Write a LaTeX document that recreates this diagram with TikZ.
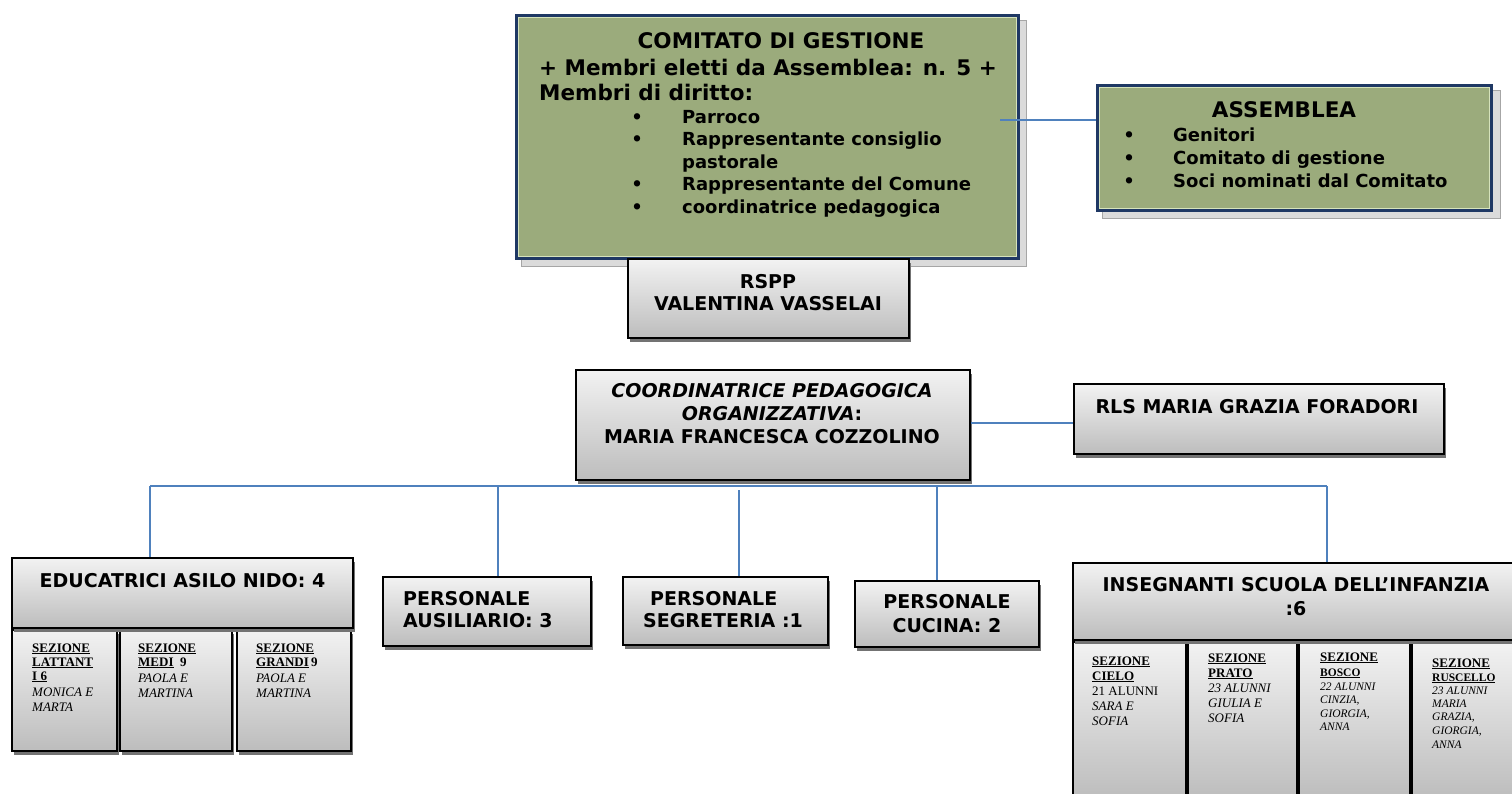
\documentclass[tikz,border=0pt]{standalone}
\usepackage{fontspec}
\setmainfont{DejaVu Sans}
\newfontfamily\tms{Liberation Serif}
\usetikzlibrary{shadows,calc}
\definecolor{cgreen}{RGB}{155,171,124}
\definecolor{cnavy}{RGB}{31,56,100}
\definecolor{clight}{RGB}{214,227,188}
\definecolor{cblue}{RGB}{79,129,189}
\newcommand{\ulb}[1]{\setbox0\hbox{#1}\rlap{\rule[-2pt]{\wd0}{1.1pt}}\box0}
\tikzset{
 graybox/.style={draw=black, line width=1.6pt, top color=black!5, bottom color=black!26, inner sep=0pt,
   drop shadow={shadow xshift=2pt, shadow yshift=-4pt, fill=black!55, opacity=1}},
 greenbox/.style={draw=cnavy, line width=4pt, fill=cgreen, inner sep=0pt},
 gshadow/.style={draw=black!35, fill=black!14, line width=1pt},
 conn/.style={draw=cblue, line width=1.6pt},
 big/.style={font=\bfseries\fontsize{21.5}{26}\selectfont, inner sep=0pt},
 mid/.style={font=\bfseries\fontsize{18}{22}\selectfont, inner sep=0pt},
 lab/.style={font=\bfseries\fontsize{19}{23}\selectfont, inner sep=0pt},
 sez/.style={font=\tms\fontsize{13}{15}\selectfont, inner sep=0pt, anchor=base west},
 sezs/.style={font=\tms\fontsize{11.5}{13}\selectfont, inner sep=0pt, anchor=base west},
}
\begin{document}
\begin{tikzpicture}[x=1pt,y=-1pt]
\useasboundingbox[fill=white] (0,0) rectangle (1512,793);

% ---------- Comitato di gestione ----------
\draw[gshadow] (521,20) rectangle (1026,266);
\node[greenbox, minimum width=501, minimum height=242] (com) at (767.5,137) {};
\draw[clight, line width=1.2pt] ($(com.north west)+(3.5,3.5)$) rectangle ($(com.south east)+(-3.5,-3.5)$);
\node[big, anchor=base] (c1) at (781,48) {COMITATO DI GESTIONE};
\node[big, anchor=base west] (c2) at (539,75) {+ Membri eletti da Assemblea: n. 5 +};
\node[big, anchor=base west] (c3) at (539,100) {Membri di diritto:};
\node[mid, anchor=base] (cb1) at (637,123) {•};
\node[mid, anchor=base west] (cl1) at (682,123) {Parroco};
\node[mid, anchor=base] (cb2) at (637,145.5) {•};
\node[mid, anchor=base west] (cl2) at (682,145.5) {Rappresentante consiglio};
\node[mid, anchor=base west] (cl2b) at (682,168) {pastorale};
\node[mid, anchor=base] (cb3) at (637,190.5) {•};
\node[mid, anchor=base west] (cl3) at (682,190.5) {Rappresentante del Comune};
\node[mid, anchor=base] (cb4) at (637,213) {•};
\node[mid, anchor=base west] (cl4) at (682,213) {coordinatrice pedagogica};

% ---------- Assemblea ----------
\draw[gshadow] (1102,90) rectangle (1500,218);
\node[greenbox, minimum width=393, minimum height=124] (asm) at (1294.5,148) {};
\draw[clight, line width=1.2pt] ($(asm.north west)+(3.5,3.5)$) rectangle ($(asm.south east)+(-3.5,-3.5)$);
\node[big, anchor=base] (a0) at (1284,117) {ASSEMBLEA};
\node[mid, anchor=base] (ab1) at (1129,141) {•};
\node[mid, anchor=base west] (a1) at (1173,141) {Genitori};
\node[mid, anchor=base] (ab2) at (1129,164) {•};
\node[mid, anchor=base west] (a2) at (1173,164) {Comitato di gestione};
\node[mid, anchor=base] (ab3) at (1129,187) {•};
\node[mid, anchor=base west] (a3) at (1173,187) {Soci nominati dal Comitato};

\coordinate (ca) at (1000,120);
\draw[conn] (ca) -- (ca -| asm.west);

% ---------- RSPP ----------
\node[graybox, minimum width=281, minimum height=79] (rspp) at (768.5,298.5) {};
\node[lab, anchor=base] (r1) at (768,288) {RSPP};
\node[lab, anchor=base] (r2) at (768,310) {VALENTINA VASSELAI};

% ---------- Coordinatrice ----------
\node[graybox, minimum width=394, minimum height=110] (coo) at (773,425) {};
\node[lab, anchor=base] (k1) at (772,397) {\itshape COORDINATRICE PEDAGOGICA};
\node[lab, anchor=base] (k2) at (772,420) {\itshape ORGANIZZATIVA\upshape:};
\node[lab, anchor=base] (k3) at (772,443) {MARIA FRANCESCA COZZOLINO};

% ---------- RLS ----------
\node[graybox, minimum width=370, minimum height=70] (rls) at (1259,419) {};
\node[lab, anchor=base] (l1) at (1257,413) {RLS MARIA GRAZIA FORADORI};
\coordinate (cr) at (971,423);
\draw[conn] (cr) -- (cr -| rls.west);

% ---------- bus ----------
\coordinate (b1) at (150,486);
\coordinate (b2) at (498,486);
\coordinate (b3) at (739,490);
\coordinate (b4) at (937,486);
\coordinate (b5) at (1327,486);
\draw[conn] (b1) -- (b5);

% ---------- Educatrici ----------
\node[graybox, minimum width=105, minimum height=121] (e1) at (64.5,690.5) {};
\node[graybox, minimum width=112, minimum height=121] (e2) at (176,690.5) {};
\node[graybox, minimum width=114, minimum height=121] (e3) at (294,690.5) {};
\node[graybox, minimum width=341, minimum height=70] (edu) at (182.5,593) {};
\node[lab, anchor=base] (et) at (182.5,587) {EDUCATRICI ASILO NIDO: 4};
\draw[conn] (b1) -- (b1 |- edu.north);

\node[sez] (e1a) at (32,652) {\bfseries\ulb{SEZIONE}};
\node[sez] (e1b) at (32,666) {\bfseries\ulb{LATTANT}};
\node[sez] (e1c) at (32,680) {\bfseries\ulb{I 6}};
\node[sez] (e1d) at (32,696) {\itshape MONICA E};
\node[sez] (e1e) at (32,711) {\itshape MARTA};

\node[sez] (e2a) at (138,652) {\bfseries\ulb{SEZIONE}};
\node[sez] (e2b) at (138,666) {\bfseries\ulb{MEDI}\ \ 9};
\node[sez] (e2c) at (138,682) {\itshape PAOLA E};
\node[sez] (e2d) at (138,697) {\itshape MARTINA};

\node[sez] (e3a) at (256,652) {\bfseries\ulb{SEZIONE}};
\node[sez] (e3b) at (256,666) {\bfseries\ulb{GRANDI}\,9};
\node[sez] (e3c) at (256,682) {\itshape PAOLA E};
\node[sez] (e3d) at (256,697) {\itshape MARTINA};

% ---------- Personale ----------
\node[graybox, minimum width=208, minimum height=69] (aus) at (487,611.5) {};
\node[lab, anchor=base west] (au1) at (403,605) {PERSONALE};
\node[lab, anchor=base west] (au2) at (403,627) {AUSILIARIO: 3};
\draw[conn] (b2) -- (b2 |- aus.north);

\node[graybox, minimum width=205, minimum height=68] (seg) at (725.5,611) {};
\node[lab, anchor=base west] (se1) at (650,605) {PERSONALE};
\node[lab, anchor=base west] (se2) at (643,627) {SEGRETERIA :1};
\draw[conn] (b3) -- (b3 |- seg.north);

\node[graybox, minimum width=184, minimum height=66] (cuc) at (947,614) {};
\node[lab, anchor=base] (cu1) at (947,608) {PERSONALE};
\node[lab, anchor=base] (cu2) at (947,632) {CUCINA: 2};
\draw[conn] (b4) -- (b4 |- cuc.north);

% ---------- Insegnanti ----------
\node[graybox, minimum width=113, minimum height=157] (i1) at (1129.5,720.5) {};
\node[graybox, minimum width=109, minimum height=157] (i2) at (1242.5,720.5) {};
\node[graybox, minimum width=111, minimum height=157] (i3) at (1354.5,720.5) {};
\node[graybox, minimum width=103, minimum height=157] (i4) at (1463.5,720.5) {};
\node[graybox, minimum width=442, minimum height=77] (ins) at (1294,601.5) {};
\node[lab, anchor=base] (it1) at (1296,591) {INSEGNANTI SCUOLA DELL’INFANZIA};
\node[lab, anchor=base] (it2) at (1296,615) {:6};
\draw[conn] (b5) -- (b5 |- ins.north);

\node[sez] (i1a) at (1092,665) {\bfseries\ulb{SEZIONE}};
\node[sez] (i1b) at (1092,680) {\bfseries\ulb{CIELO}};
\node[sez] (i1c) at (1092,695) {21 ALUNNI};
\node[sez] (i1d) at (1092,710) {\itshape SARA E};
\node[sez] (i1e) at (1092,725) {\itshape SOFIA};

\node[sez] (i2a) at (1208,662) {\bfseries\ulb{SEZIONE}};
\node[sez] (i2b) at (1208,677) {\bfseries\ulb{PRATO}};
\node[sez] (i2c) at (1208,692) {\itshape 23 ALUNNI};
\node[sez] (i2d) at (1208,707) {\itshape GIULIA E};
\node[sez] (i2e) at (1208,722) {\itshape SOFIA};

\node[sez] (i3a) at (1320,661) {\bfseries\ulb{SEZIONE}};
\node[sezs] (i3b) at (1320,676) {\bfseries\ulb{BOSCO}};
\node[sezs] (i3c) at (1320,690) {\itshape 22 ALUNNI};
\node[sezs] (i3d) at (1320,703) {\itshape CINZIA,};
\node[sezs] (i3e) at (1320,717) {\itshape GIORGIA,};
\node[sezs] (i3f) at (1320,730) {\itshape ANNA};

\node[sez] (i4a) at (1432,667) {\bfseries\ulb{SEZIONE}};
\node[sezs] (i4b) at (1432,681) {\bfseries\ulb{RUSCELLO}};
\node[sezs] (i4c) at (1432,694) {\itshape 23 ALUNNI};
\node[sezs] (i4d) at (1432,707) {\itshape MARIA};
\node[sezs] (i4e) at (1432,720) {\itshape GRAZIA,};
\node[sezs] (i4f) at (1432,734) {\itshape GIORGIA,};
\node[sezs] (i4g) at (1432,748) {\itshape ANNA};
\end{tikzpicture}
\end{document}
